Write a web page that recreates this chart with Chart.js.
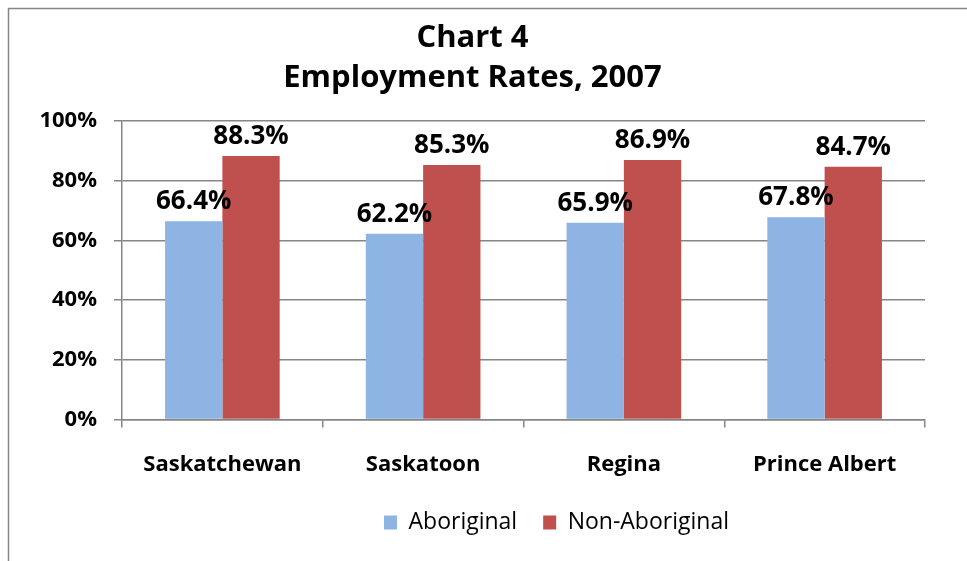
<!DOCTYPE html>
<html>
<head>
<meta charset="utf-8">
<script src="https://cdn.jsdelivr.net/npm/chart.js@4/dist/chart.umd.min.js"></script>
<style>
  html, body { margin: 0; padding: 0; background: #ffffff; }
  #wrap { position: relative; width: 967px; height: 561px; }
</style>
</head>
<body>
<div id="wrap"><canvas id="c" width="967" height="561"></canvas></div>
<script>
const categories = ['Saskatchewan', 'Saskatoon', 'Regina', 'Prince Albert'];
const aboriginal = [66.4, 62.2, 65.9, 67.8];
const nonAboriginal = [88.3, 85.3, 86.9, 84.7];
const seriesNames = ['Aboriginal', 'Non-Aboriginal'];
const titleLines = ['Chart 4', 'Employment Rates, 2007'];

const FONT = "'Open Sans', 'Liberation Sans', sans-serif";

const frame = {
  id: 'frame',
  beforeDraw(chart) {
    const ctx = chart.ctx;
    ctx.save();
    ctx.strokeStyle = '#868686';
    ctx.lineWidth = 1.5;
    ctx.beginPath();
    ctx.moveTo(8.5, 561);
    ctx.lineTo(8.5, 8.5);
    ctx.lineTo(967, 8.5);
    ctx.stroke();
    ctx.restore();
  }
};

const legendShift = {
  id: 'legendShift',
  afterLayout(chart) {
    if (chart.legend) {
      chart.legend.left += 84;
      chart.legend.right += 84;
      chart.legend.top -= 17;
      chart.legend.bottom -= 17;
    }
  }
};

const valueLabels = {
  id: 'valueLabels',
  afterDatasetsDraw(chart) {
    const ctx = chart.ctx;
    ctx.save();
    ctx.font = 'bold 26px ' + FONT;
    ctx.fillStyle = '#000000';
    ctx.textAlign = 'center';
    ctx.textBaseline = 'alphabetic';
    chart.data.datasets.forEach((ds, i) => {
      chart.getDatasetMeta(i).data.forEach((bar, j) => {
        ctx.fillText(ds.data[j].toFixed(1) + '%', bar.x, bar.y - 12);
      });
    });
    ctx.restore();
  }
};

new Chart(document.getElementById('c'), {
  type: 'bar',
  data: {
    labels: categories,
    datasets: [
      { label: seriesNames[0], data: aboriginal, backgroundColor: '#8EB4E3', borderWidth: 0 },
      { label: seriesNames[1], data: nonAboriginal, backgroundColor: '#C0504D', borderWidth: 0 }
    ]
  },
  options: {
    responsive: false,
    animation: false,
    devicePixelRatio: 1,
    layout: { padding: { left: 20, right: 42, top: 12, bottom: 0 } },
    datasets: { bar: { barPercentage: 1.0, categoryPercentage: 0.571 } },
    plugins: {
      title: {
        display: true,
        text: titleLines,
        color: '#000000',
        font: { family: FONT, size: 31, weight: 'bold', lineHeight: 1.29 },
        padding: { top: 6, bottom: 23 }
      },
      legend: {
        position: 'bottom',
        labels: {
          color: '#000000',
          font: { family: FONT, size: 23 },
          boxWidth: 13,
          boxHeight: 14,
          padding: 26
        }
      },
      tooltip: { enabled: false }
    },
    scales: {
      x: {
        grid: { display: true, drawOnChartArea: false, drawTicks: true, offset: true, tickLength: 8, color: '#868686', lineWidth: 1.5 },
        border: { display: true, color: '#868686', width: 1.5 },
        ticks: { color: '#000000', font: { family: FONT, size: 22, weight: 'bold' }, padding: 24 }
      },
      y: {
        min: 0,
        max: 100,
        afterFit(scale) { scale.width = 102; },
        ticks: { stepSize: 20, color: '#000000', font: { family: FONT, size: 22, weight: 'bold' }, padding: 17, callback: v => v + '%' },
        grid: { color: '#868686', lineWidth: 1.5, tickLength: 8 },
        border: { display: true, color: '#868686', width: 1.5 }
      }
    }
  },
  plugins: [frame, legendShift, valueLabels]
});
</script>
</body>
</html>
